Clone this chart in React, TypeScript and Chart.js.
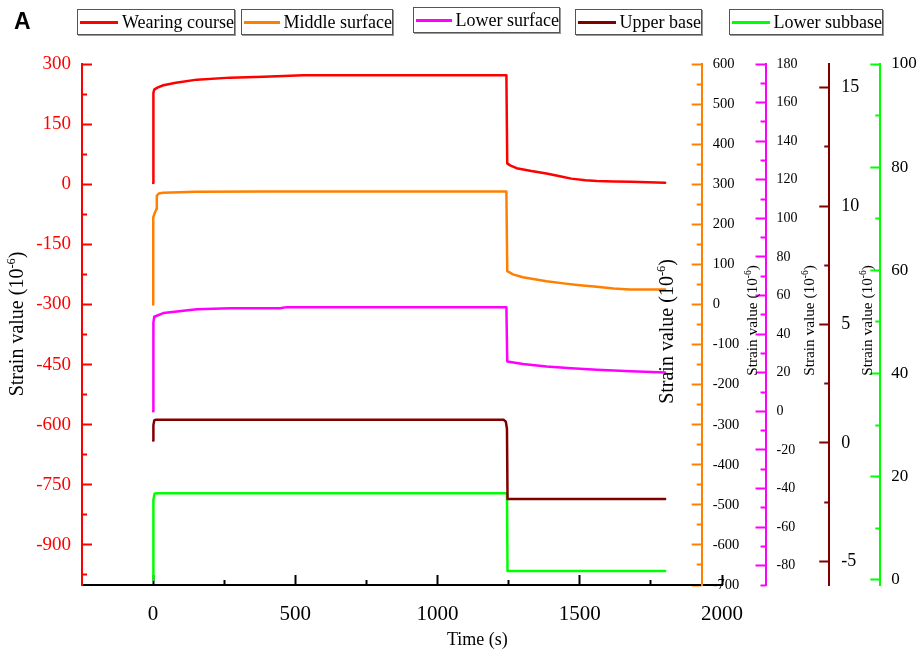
import React, { useEffect, useRef } from 'react';
import { Chart, LineController, LineElement, PointElement, LinearScale } from 'chart.js';

// ---------------- data ----------------
const seriesNames = ['Wearing course', 'Middle surface', 'Lower surface', 'Upper base', 'Lower subbase'];
const seriesColors = ['#ff0000', '#ff8000', '#ff00ff', '#800000', '#00ff00'];

const wearingTime = [0, 1, 4, 15, 36, 80, 154, 271, 388, 528, 1242, 1245, 1255, 1278, 1330, 1383, 1430, 1470, 1520, 1560, 1620, 1680, 1740, 1800];
const wearingStrain = [3, 228, 236, 241, 247, 253, 261, 266, 268, 272, 272, 52, 47, 40, 33, 27, 20, 14, 10, 8, 7, 6, 5, 4];

const middleTime = [0, 0.5, 4, 12, 13, 20, 35, 150, 400, 1242, 1245, 1265, 1300, 1383, 1450, 1500, 1560, 1618, 1677, 1800];
const middleStrain = [0, 217, 225, 238, 271, 277, 279, 281, 282, 282, 83, 75, 68, 58, 52, 48, 44, 40, 37.5, 37.5];

const lowerTime = [0, 1, 4, 36, 154, 271, 446, 470, 1242, 1245, 1300, 1383, 1470, 1560, 1680, 1800];
const lowerStrain = [0, 46, 49, 50.9, 52.9, 53.4, 53.4, 54, 54, 25.8, 24.5, 23.2, 22.3, 21.5, 20.8, 20.1];

const upperTime = [0, 1, 4, 10, 1232, 1240, 1244, 1246, 1800];
const upperStrain = [0.1, 0.75, 0.95, 0.98, 0.98, 0.9, 0.6, -2.37, -2.37];

const subbaseTime = [0, 1, 5, 12, 1244, 1246, 1800];
const subbaseStrain = [0, 15.5, 16.7, 16.8, 16.8, 1.7, 1.7];

// tick labels
const xMajorTicks = [0, 500, 1000, 1500, 2000];
const xMinorTicks = [250, 750, 1250, 1750];
const wearingMajorTicks = [300, 150, 0, -150, -300, -450, -600, -750, -900];
const wearingMinorTicks = [225, 75, -75, -225, -375, -525, -675, -825, -975];
const middleMajorTicks = [600, 500, 400, 300, 200, 100, 0, -100, -200, -300, -400, -500, -600, -700];
const middleMinorTicks = [550, 450, 350, 250, 150, 50, -50, -150, -250, -350, -450, -550, -650];
const lowerMajorTicks = [180, 160, 140, 120, 100, 80, 60, 40, 20, 0, -20, -40, -60, -80];
const lowerMinorTicks = [170, 150, 130, 110, 90, 70, 50, 30, 10, -10, -30, -50, -70, -90];
const upperMajorTicks = [15, 10, 5, 0, -5];
const upperMinorTicks = [12.5, 7.5, 2.5, -2.5];
const subbaseMajorTicks = [100, 80, 60, 40, 20, 0];
const subbaseMinorTicks = [90, 70, 50, 30, 10];

const axisTitleMain = 'Strain value (10';
const axisTitleSup = '-6';
const axisTitleTail = ')';
const xTitle = 'Time (s)';
const panelLetter = 'A';

// ---------------- layout / style ----------------
const SERIF = '"Liberation Serif", "Times New Roman", serif';
const MAJORS: Record<string, number[]> = {
  x: xMajorTicks, yWear: wearingMajorTicks, yMid: middleMajorTicks,
  yLow: lowerMajorTicks, yUp: upperMajorTicks, ySub: subbaseMajorTicks,
};
const PLACE: Record<string, { dir: number; off: number; align: CanvasTextAlign }> = {
  x: { dir: -1, off: 35, align: 'center' },
  yWear: { dir: 1, off: -11, align: 'right' },
  yMid: { dir: -1, off: 11, align: 'left' },
  yLow: { dir: -1, off: 11, align: 'left' },
  yUp: { dir: -1, off: 12, align: 'left' },
  ySub: { dir: -1, off: 11, align: 'left' },
};
const TITLES = [
  { scale: 'yWear', dx: -59, cy: 324, size: 20 },
  { scale: 'yMid', dx: -29, cy: 331.5, size: 20 },
  { scale: 'yLow', dx: -8.5, cy: 320.5, size: 15.3 },
  { scale: 'yUp', dx: -15.6, cy: 320.5, size: 15.3 },
  { scale: 'ySub', dx: -8.3, cy: 320.5, size: 15.3 },
];
const LEGEND_BOXES = [
  { left: 77, top: 9, width: 158 },
  { left: 241, top: 9, width: 152 },
  { left: 413, top: 7, width: 147 },
  { left: 575, top: 9, width: 127 },
  { left: 729, top: 9, width: 154 },
];

function axisPixel(scale: any): number {
  const pos = scale.options.position;
  const key = Object.keys(pos)[0];
  return scale.chart.scales[key].getPixelForValue(pos[key]);
}

class PlacedScale extends LinearScale {
  static id = 'placed';
  _computeGridLineItems(chartArea: any) {
    const items = (super._computeGridLineItems as any)(chartArea);
    const place = PLACE[(this as any).id];
    if (!place) return items;
    const base = axisPixel(this);
    const majors = MAJORS[(this as any).id];
    const tol = Math.abs((this as any).max - (this as any).min) / 500;
    const horiz = this.isHorizontal();
    for (const it of items) {
      const v = this.getValueForPixel(horiz ? it.tx1 : it.ty1);
      const len = majors.some((m) => Math.abs(m - v) < tol) ? 10 : 5;
      if (horiz) {
        it.ty1 = base;
        it.ty2 = base + place.dir * len;
      } else {
        it.tx1 = base;
        it.tx2 = base + place.dir * len;
      }
    }
    return items;
  }
  _computeLabelItems(chartArea: any) {
    const items = (super._computeLabelItems as any)(chartArea);
    const place = PLACE[(this as any).id];
    if (!place) return items;
    const base = axisPixel(this);
    const horiz = this.isHorizontal();
    for (const it of items) {
      const o = it.options;
      if (horiz) {
        o.translation = [o.translation[0], base + place.off];
        o.textBaseline = 'alphabetic';
        o.textAlign = 'center';
      } else {
        o.translation = [base + place.off, o.translation[1]];
        o.textBaseline = 'middle';
        o.textAlign = place.align;
      }
      o.rotation = 0;
      it.textOffset = 0;
    }
    return items;
  }
}

Chart.register(LineController, LineElement, PointElement, LinearScale, PlacedScale);

function drawStrainTitle(ctx: CanvasRenderingContext2D, baseX: number, cy: number, size: number) {
  ctx.save();
  ctx.translate(baseX, cy);
  ctx.rotate(-Math.PI / 2);
  ctx.fillStyle = '#000';
  ctx.textBaseline = 'alphabetic';
  ctx.textAlign = 'left';
  const f = `${size}px ${SERIF}`;
  const fs = `${size * 0.62}px ${SERIF}`;
  ctx.font = f;
  const w1 = ctx.measureText(axisTitleMain).width;
  const w3 = ctx.measureText(axisTitleTail).width;
  ctx.font = fs;
  const w2 = ctx.measureText(axisTitleSup).width;
  let x = -(w1 + w2 + w3) / 2;
  ctx.font = f;
  ctx.fillText(axisTitleMain, x, 0);
  x += w1;
  ctx.font = fs;
  ctx.fillText(axisTitleSup, x, -size * 0.4);
  x += w2;
  ctx.font = f;
  ctx.fillText(axisTitleTail, x, 0);
  ctx.restore();
}

const titlePlugin = {
  id: 'strainTitles',
  afterDraw(chart: any) {
    const ctx = chart.ctx;
    for (const t of TITLES) {
      const sc = chart.scales[t.scale];
      drawStrainTitle(ctx, axisPixel(sc) + t.dx, t.cy, t.size);
    }
    const xs = chart.scales.x;
    ctx.save();
    ctx.font = `18px ${SERIF}`;
    ctx.fillStyle = '#000';
    ctx.textAlign = 'center';
    ctx.textBaseline = 'alphabetic';
    ctx.fillText(xTitle, xs.getPixelForValue(1140), 645);
    ctx.restore();
  },
};

function yScale(o: { at: number; min: number; max: number; color: string; labelColor: string; size: number; major: number[]; minor: number[] }) {
  return {
    type: 'placed',
    axis: 'y',
    min: o.min,
    max: o.max,
    position: { x: o.at },
    border: { display: true, color: o.color, width: 2 },
    grid: { display: true, drawOnChartArea: false, drawTicks: true, tickLength: 10, tickColor: o.color, tickWidth: 2, color: o.color },
    ticks: {
      autoSkip: false,
      maxRotation: 0,
      color: o.labelColor,
      font: { family: SERIF, size: o.size },
      callback: (v: number) => (o.major.includes(v) ? String(v) : ''),
    },
    afterBuildTicks: (s: any) => {
      s.ticks = [...o.major, ...o.minor].sort((a, b) => a - b).map((v) => ({ value: v }));
    },
  };
}

function makeData(t: number[], v: number[]) {
  return t.map((x, i) => ({ x, y: v[i] }));
}

export default function App() {
  const ref = useRef<HTMLCanvasElement>(null);
  useEffect(() => {
    const times = [wearingTime, middleTime, lowerTime, upperTime, subbaseTime];
    const strains = [wearingStrain, middleStrain, lowerStrain, upperStrain, subbaseStrain];
    const axisIds = ['yWear', 'yMid', 'yLow', 'yUp', 'ySub'];
    const chart = new Chart(ref.current as HTMLCanvasElement, {
      type: 'line',
      data: {
        datasets: seriesNames.map((name, i) => ({
          label: name,
          data: makeData(times[i], strains[i]),
          borderColor: seriesColors[i],
          backgroundColor: seriesColors[i],
          borderWidth: 2.5,
          pointRadius: 0,
          tension: 0,
          fill: false,
          xAxisID: 'x',
          yAxisID: axisIds[i],
          borderJoinStyle: 'round',
          borderCapStyle: 'round',
        })),
      },
      options: {
        responsive: false,
        maintainAspectRatio: false,
        animation: false,
        events: [],
        layout: { padding: { left: 82, right: 198, top: 64, bottom: 70 } },
        plugins: { legend: { display: false }, tooltip: { enabled: false } },
        scales: {
          x: {
            type: 'placed',
            axis: 'x',
            min: -250,
            max: 2000,
            position: { yWear: -1000 },
            border: { display: true, color: '#000', width: 2 },
            grid: { display: true, drawOnChartArea: false, drawTicks: true, tickLength: 10, tickColor: '#000', tickWidth: 2 },
            ticks: {
              autoSkip: false,
              maxRotation: 0,
              minRotation: 0,
              color: '#000',
              font: { family: SERIF, size: 21 },
              callback: (v: number) => (xMajorTicks.includes(v) ? String(v) : ''),
            },
            afterBuildTicks: (s: any) => {
              s.ticks = [...xMajorTicks, ...xMinorTicks].sort((a, b) => a - b).map((v) => ({ value: v }));
            },
          },
          yWear: yScale({ at: -250, min: -1000, max: 300, color: '#ff0000', labelColor: '#ff0000', size: 19, major: wearingMajorTicks, minor: wearingMinorTicks }),
          yMid: yScale({ at: 1928.6, min: -700, max: 600, color: '#ff8000', labelColor: '#000', size: 14.5, major: middleMajorTicks, minor: middleMinorTicks }),
          yLow: yScale({ at: 2153, min: -90, max: 180, color: '#ff00ff', labelColor: '#000', size: 14, major: lowerMajorTicks, minor: lowerMinorTicks }),
          yUp: yScale({ at: 2377, min: -6, max: 16, color: '#800000', labelColor: '#000', size: 18, major: upperMajorTicks, minor: upperMinorTicks }),
          ySub: yScale({ at: 2556.6, min: -1, max: 100, color: '#00ff00', labelColor: '#000', size: 17, major: subbaseMajorTicks, minor: subbaseMinorTicks }),
        } as any,
      },
      plugins: [titlePlugin],
    } as any);
    return () => chart.destroy();
  }, []);

  return (
    <div style={{ position: 'fixed', left: 0, top: 0, width: 920, height: 655, background: '#fff', overflow: 'hidden' }}>
      <canvas ref={ref} width={920} height={655} style={{ position: 'absolute', left: 0, top: 0, width: 920, height: 655 }} />
      <div style={{ position: 'absolute', left: 14, top: 10, font: `bold 23px "Liberation Sans", Arial, sans-serif`, lineHeight: '23px', color: '#000' }}>{panelLetter}</div>
      {seriesNames.map((name, i) => (
        <div
          key={name}
          style={{
            position: 'absolute',
            left: LEGEND_BOXES[i].left,
            top: LEGEND_BOXES[i].top,
            width: LEGEND_BOXES[i].width,
            height: 26,
            boxSizing: 'border-box',
            border: '1px solid #555',
            boxShadow: '1px 1px 0 #999',
            background: '#fff',
            display: 'flex',
            alignItems: 'center',
            whiteSpace: 'nowrap',
          }}
        >
          <span style={{ display: 'inline-block', width: 40, height: 3, background: seriesColors[i], marginLeft: 2, marginRight: 4 }} />
          <span style={{ font: `18px ${SERIF}`, color: '#000' }}>{name}</span>
        </div>
      ))}
    </div>
  );
}
